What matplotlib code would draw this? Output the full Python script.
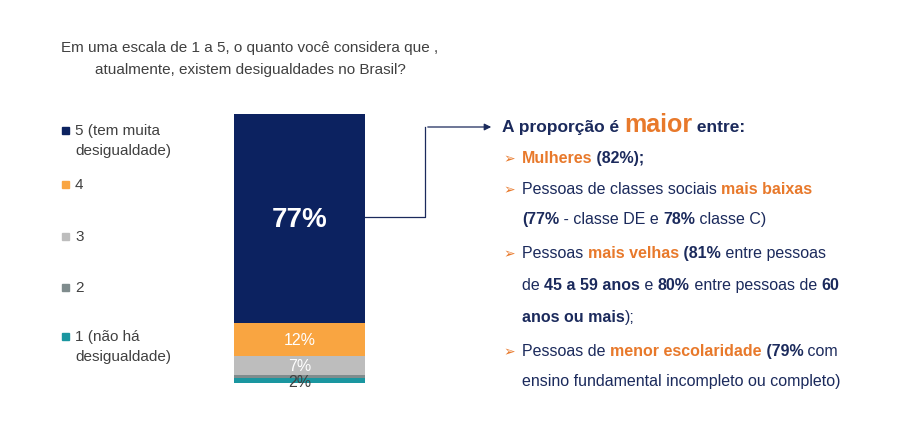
import matplotlib
matplotlib.use("Agg")
import matplotlib.pyplot as plt
plt.rcParams["font.family"] = "Liberation Sans"

categories = ["1 (não há\ndesigualdade)", "2", "3", "4", "5 (tem muita\ndesigualdade)"]
values = [2, 1, 7, 12, 77]
labels = ["2%", "", "7%", "12%", "77%"]
colors = ["#1A96A0", "#7F8C8D", "#BDBDBD", "#F9A541", "#0C2260"]

NAVY = "#1B2A5C"
ORANGE = "#E8792B"
W, H = 916, 427
fig = plt.figure(figsize=(W/100, H/100), dpi=100)
fig.patch.set_facecolor("white")

def fx(x): return x / W
def fy(y): return 1 - y / H

ax = fig.add_axes([fx(234), fy(384), fx(365-234), (384-115)/H])
bottom = 0
for v, c, l in zip(values, colors, labels):
    ax.bar(0, v, bottom=bottom, width=1, color=c)
    if l:
        if l == "77%":
            ax.text(0, bottom + v/2, l, ha="center", va="center", color="white", fontsize=20, fontweight="bold")
        elif l == "2%":
            ax.text(0, bottom + v/2 - 0.5, l, ha="center", va="center", color="#404040", fontsize=11.5)
        else:
            ax.text(0, bottom + v/2, l, ha="center", va="center", color="white", fontsize=11.5)
    bottom += v
ax.set_xlim(-0.5, 0.5)
ax.set_ylim(0, bottom)
ax.axis("off")

fig.text(fx(250), fy(48), "Em uma escala de 1 a 5, o quanto você considera que ,", ha="center", va="center", fontsize=11, color="#404040")
fig.text(fx(250), fy(70), "atualmente, existem desigualdades no Brasil?", ha="center", va="center", fontsize=11, color="#404040")

leg_y = [347, 288, 237, 185, 141]
for cat, c, y in zip(categories, colors, leg_y):
    lines = cat.split("\n")
    y0 = y - (len(lines)-1) * 10
    fig.patches.append(plt.Rectangle((fx(62), fy(y0) - 3.5/H), 7/W, 7/H, transform=fig.transFigure, color=c))
    fig.text(fx(75), fy(y), cat, ha="left", va="center", fontsize=11, color="#404040", linespacing=1.5)

fig.add_artist(plt.Line2D([fx(365), fx(425), fx(425)], [fy(218), fy(218), fy(128)], color=NAVY, lw=0.9, transform=fig.transFigure))
fig.add_artist(matplotlib.patches.FancyArrowPatch((fx(425), fy(128)), (fx(494), fy(128)), transform=fig.transFigure,
    arrowstyle="-|>", mutation_scale=10, color=NAVY, lw=0.9))

renderer = fig.canvas.get_renderer()

def rich(x, y, parts, size=11.5):
    cx = x
    for txt, col, bold, *rest in parts:
        fs = rest[0] if rest else size
        t = fig.text(fx(cx), fy(y), txt, ha="left", va="baseline", fontsize=fs, color=col,
                     fontweight="bold" if bold else "normal")
        bb = t.get_window_extent(renderer)
        cx += bb.width

rich(502, 132, [("A proporção é ", NAVY, True, 12.5), ("maior", ORANGE, True, 18), (" entre:", NAVY, True, 12.5)])

lines = [
    (163, True, [("Mulheres", ORANGE, True), (" (82%);", NAVY, True)]),
    (194, True, [("Pessoas de classes sociais ", NAVY, False), ("mais baixas", ORANGE, True)]),
    (224, False, [("(77%", NAVY, True), (" - classe DE e ", NAVY, False), ("78%", NAVY, True), (" classe C)", NAVY, False)]),
    (258, True, [("Pessoas ", NAVY, False), ("mais velhas", ORANGE, True), (" (81%", NAVY, True), (" entre pessoas", NAVY, False)]),
    (290, False, [("de ", NAVY, False), ("45 a 59 anos", NAVY, True), (" e ", NAVY, False), ("80%", NAVY, True), (" entre pessoas de ", NAVY, False), ("60", NAVY, True)]),
    (322, False, [("anos ou mais", NAVY, True), (");", NAVY, False)]),
    (356, True, [("Pessoas de ", NAVY, False), ("menor escolaridade", ORANGE, True), (" (79%", NAVY, True), (" com", NAVY, False)]),
    (386, False, [("ensino fundamental incompleto ou completo)", NAVY, False)]),
]
for y, bullet, parts in lines:
    if bullet:
        fig.text(fx(503), fy(y), "➢", ha="left", va="baseline", fontsize=10, color=ORANGE, family="DejaVu Sans")
    rich(522, y, parts)

fig.savefig("out.png", dpi=100, facecolor="white")
